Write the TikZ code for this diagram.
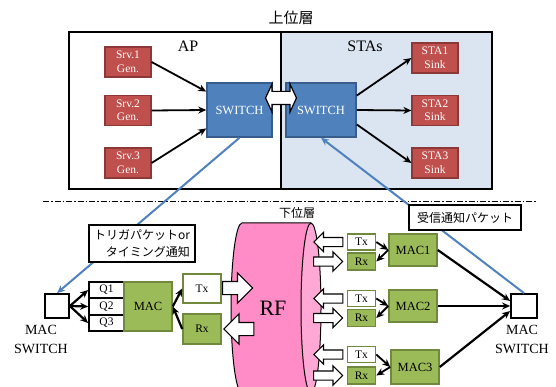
\documentclass[tikz,border=0pt]{standalone}
\usepackage{fontspec}
\setmainfont{Liberation Serif}
\newfontfamily\jpfont{Noto Sans CJK JP}
\usetikzlibrary{arrows.meta}
\usetikzlibrary{shapes.arrows}

\definecolor{srvred}{HTML}{C0504D}
\definecolor{srvredline}{HTML}{8C3836}
\definecolor{swblue}{HTML}{4F81BD}
\definecolor{swblueline}{HTML}{385D8A}
\definecolor{macgreen}{HTML}{9BBB59}
\definecolor{macgreenline}{HTML}{71893F}
\definecolor{stabg}{HTML}{DBE5F1}
\definecolor{rfpink}{HTML}{FF8CC6}
\definecolor{rfpinkface}{HTML}{FFA8D6}

\begin{document}
\begin{tikzpicture}[x=1pt, y=-1pt,
  redbox/.style={draw=srvredline, line width=1.2pt, fill=srvred, text=white, minimum width=46pt, minimum height=30pt, inner sep=0pt, align=center, font=\fontsize{11.5}{13.5}\selectfont},
  swbox/.style={draw=swblueline, line width=1.5pt, fill=swblue, text=white, minimum height=54pt, inner sep=0pt, font=\fontsize{12.5}{14}\selectfont},
  qbox/.style={draw, line width=1.8pt, fill=white, minimum width=35pt, minimum height=16.5pt, inner sep=0pt, font=\fontsize{11.5}{13}\selectfont},
  macbox/.style={draw=macgreenline, line width=1.5pt, fill=macgreen, inner sep=0pt, font=\fontsize{12.5}{14}\selectfont},
  txbox/.style={draw=macgreenline, line width=1.5pt, fill=white, inner sep=0pt, font=\fontsize{11.5}{13}\selectfont},
  rxbox/.style={txbox, fill=macgreen},
  msw/.style={draw, line width=1.8pt, fill=white, minimum width=24pt, minimum height=24pt, inner sep=0pt},
  mswlabel/.style={align=center, font=\fontsize{14}{19}\selectfont},
  note/.style={draw, line width=2pt, fill=white, inner sep=2pt, font=\jpfont\fontsize{12}{17}\selectfont},
  flow/.style={line width=1.8pt, -{Stealth[length=8pt, width=7pt]}},
  link/.style={swblue, line width=2pt, -{Stealth[length=8pt, width=7pt]}},
  bigarrow/.style={single arrow, draw, line width=1.2pt, fill=white, inner sep=6pt, single arrow head extend=8.5pt, minimum height=30pt},
  smallarrow/.style={single arrow, draw, line width=1.2pt, fill=white, inner sep=4pt, single arrow head extend=5pt, minimum height=29pt}
]
\useasboundingbox (0,0) rectangle (556,387);

% upper layer: AP and STAs
\node[font=\jpfont\fontsize{15}{17}\selectfont] (upper) at (291,18) {上位層};
\draw[line width=1.2pt, fill=white] (69,32) rectangle (281,189);
\draw[line width=1.2pt, fill=stabg] (281,32) rectangle (492,189);
\node[font=\fontsize{16}{18}\selectfont] (ap) at (188,46) {AP};
\node[font=\fontsize{16}{18}\selectfont] (stas) at (365,46) {STAs};

\node[redbox] (srv1) at (128,62) {Srv.1\\Gen.};
\node[redbox] (srv2) at (128,110.5) {Srv.2\\Gen.};
\node[redbox] (srv3) at (128,163) {Srv.3\\Gen.};
\node[swbox, minimum width=65pt] (apsw) at (239.5,110) {SWITCH};
\node[swbox, minimum width=70pt] (stasw) at (321,110) {SWITCH};
\node[redbox] (sta1) at (435,58) {STA1\\Sink};
\node[redbox] (sta2) at (435,110.5) {STA2\\Sink};
\node[redbox] (sta3) at (435,163) {STA3\\Sink};

\draw[flow] (srv1.east) -- (apsw.151);
\draw[flow] (srv2.east) -- (apsw.west);
\draw[flow] (srv3.east) -- (apsw.209);
\draw[flow] (stasw.22) -- (sta1.west);
\draw[flow] (stasw.east) -- (sta2.west);
\draw[flow] (stasw.-22) -- (sta3.west);

\node[double arrow, draw, line width=1.2pt, fill=white, inner sep=6pt, double arrow head extend=7.5pt, double arrow tip angle=130, minimum height=31pt] (swlink) at (281,98) {};

% lower layer
\draw[line width=1pt, dash pattern=on 6pt off 2pt on 1.5pt off 2pt] (43,202) -- (537,202);
\node[font=\jpfont\fontsize{12}{14}\selectfont] (lower) at (297,213) {下位層};

% RF cylinder
\fill[rfpink] (311,223) -- (242,223) arc[start angle=-90, end angle=-270, x radius=11, y radius=85] -- (311,393) -- cycle;
\draw[line width=1pt] (311,223) -- (242,223) arc[start angle=-90, end angle=-270, x radius=11, y radius=85] -- (311,393);
\draw[line width=1pt, fill=rfpinkface] (311,308) ellipse [x radius=10, y radius=85];
\node[font=\fontsize{22}{24}\selectfont] (rf) at (273,308) {RF};

% AP side MAC
\node[msw] (mswL) at (57,306) {};
\node[mswlabel] (mswLtext) at (41,339) {MAC\\SWITCH};
\node[qbox] (q1) at (106.5,290) {Q1};
\node[qbox] (q2) at (106.5,306.5) {Q2};
\node[qbox] (q3) at (106.5,323) {Q3};
\node[macbox, minimum width=48pt, minimum height=49pt] (macL) at (148,306.5) {MAC};
\node[txbox, minimum width=38pt, minimum height=29pt] (txL) at (202,288.5) {Tx};
\node[rxbox, minimum width=38pt, minimum height=30pt] (rxL) at (202,329) {Rx};

\draw[flow, line width=2.2pt] (mswL.east) -- (q1.west);
\draw[flow, line width=2.2pt] (mswL.east) -- (q2.west);
\draw[flow, line width=2.2pt] (mswL.east) -- (q3.west);
\draw[flow, line width=2.2pt] (macL.east) -- (txL.west);
\draw[flow, line width=2.2pt] (rxL.west) -- (macL.east);

\node[bigarrow, anchor=tail] (txLout) at (222,288) {};
\node[bigarrow, shape border rotate=180, anchor=tip] (rxLin) at (223,329) {};

% STA side MACs
\foreach \i/\ty/\ry/\mx/\my/\mh in {1/242/261.5/413/250/32, 2/298.5/318/413/306/32, 3/354.5/375.5/415/367/34} {
  \node[txbox, minimum width=28pt, minimum height=16pt] (tx\i) at (361.5,\ty) {Tx};
  \node[rxbox, minimum width=28pt, minimum height=17pt] (rx\i) at (361.5,\ry) {Rx};
  \node[macbox, minimum width=48pt, minimum height=\mh pt] (mac\i) at (\mx,\my) {MAC\i};
  \draw[flow] (tx\i.east) -- (mac\i.west);
  \draw[flow] (mac\i.west) -- (rx\i.east);
  \node[smallarrow, shape border rotate=180, anchor=tip] (txin\i) at (313,\ty) {};
  \node[smallarrow, anchor=tail] (rxout\i) at (313,\ry) {};
}

\node[msw, minimum width=26pt] (mswR) at (524,306) {};
\node[mswlabel] (mswRtext) at (522,339) {MAC\\SWITCH};
\draw[flow, line width=2.2pt] (mac1.east) -- (mswR.160);
\draw[flow, line width=2.2pt] (mac2.east) -- (mswR.west);
\draw[flow, line width=2.2pt] (mac3.east) -- (mswR.200);

% notifications between layers
\draw[link] (apsw.south) -- (mswL.north);
\draw[link] (mswR.north) -- (stasw.south);
\node[note, align=right, minimum width=106pt, minimum height=37pt] (trignote) at (142,243.5) {トリガパケットor\\タイミング通知};
\node[note, minimum width=112pt, minimum height=25pt] (recvnote) at (465,217.5) {受信通知パケット};
\end{tikzpicture}
\end{document}
